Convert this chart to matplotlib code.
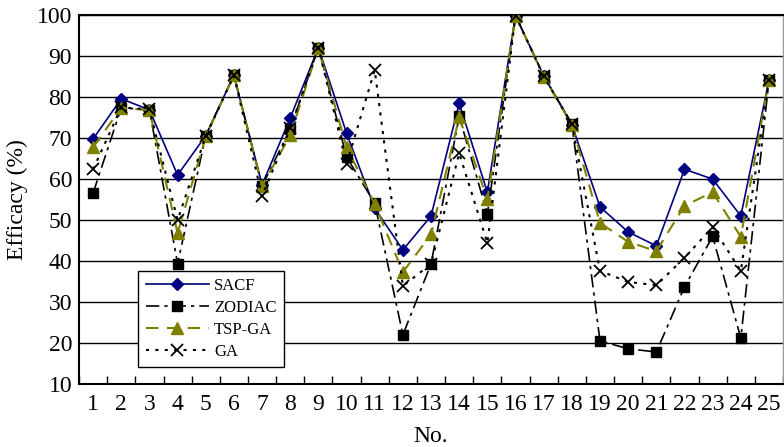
import matplotlib
matplotlib.use("Agg")
import matplotlib.pyplot as plt
from matplotlib.ticker import FixedLocator

categories = list(range(1, 26))
sacf = [69.8, 79.6, 76.9, 61.0, 70.6, 85.4, 58.6, 74.9, 92.1, 71.2, 52.9, 42.7, 51.0,
        78.5, 56.8, 99.9, 85.2, 73.3, 53.2, 47.1, 43.7, 62.4, 60.0, 51.0, 84.1]
zodiac = [56.6, 77.4, 76.9, 39.4, 70.6, 85.4, 58.3, 72.2, 92.1, 65.4, 54.1, 22.0, 39.3,
          75.3, 51.5, 99.9, 85.2, 73.5, 20.5, 18.6, 17.8, 33.7, 46.0, 21.2, 84.1]
tspga = [67.8, 77.4, 76.8, 46.8, 70.4, 85.3, 58.3, 70.7, 92.0, 67.8, 53.9, 37.3, 46.5,
         75.1, 55.1, 99.9, 85.0, 73.2, 49.3, 44.7, 42.4, 53.5, 56.8, 45.9, 84.1]
ga = [62.4, 77.5, 77.0, 50.0, 70.5, 85.3, 55.8, 72.4, 92.1, 63.7, 86.6, 33.9, 39.3,
      66.3, 44.4, 99.9, 85.1, 73.5, 37.6, 34.9, 34.1, 40.8, 48.3, 37.6, 84.1]
series_names = ["SACF", "ZODIAC", "TSP-GA", "GA"]
yticks = list(range(10, 101, 10))

plt.rcParams['font.family'] = ['Liberation Serif', 'DejaVu Serif']

fig = plt.figure(figsize=(7.84, 4.47), dpi=100)
ax = fig.add_axes([0.1008, 0.141, 0.898, 0.825])

ax.plot(categories, sacf, color='#000080', lw=1.2, marker='D', ms=6.5,
        label=series_names[0], zorder=3)
ax.plot(categories, zodiac, color='black', lw=1.2, ls=(0, (8, 3, 2, 3)), marker='s', ms=6.5,
        label=series_names[1], zorder=3)
ax.plot(categories, tspga, color='#808000', lw=1.5, ls=(0, (6, 4)), marker='^', ms=8,
        label=series_names[2], zorder=3)
ax.plot(categories, ga, color='black', lw=1.5, ls=(0, (1.5, 3)), marker='x', ms=8, mew=1.3,
        label=series_names[3], zorder=3)

ax.set_xlim(0.5, 25.5)
ax.set_ylim(10, 100)
ax.set_yticks(yticks)
ax.set_xticks(categories)
ax.xaxis.set_minor_locator(FixedLocator([i + 0.5 for i in range(0, 26)]))
ax.tick_params(axis='x', which='major', length=0, labelsize=17, pad=7)
ax.tick_params(axis='x', which='minor', length=6, direction='in', width=1)
ax.tick_params(axis='y', which='major', length=0, labelsize=17, pad=5)
ax.grid(axis='y', color='black', lw=1)
ax.set_axisbelow(True)

for s in ['left', 'bottom', 'top']:
    ax.spines[s].set_color('black')
    ax.spines[s].set_linewidth(1.5)
ax.spines['right'].set_color('#999999')
ax.spines['right'].set_linewidth(1)

ax.set_xlabel('No.', fontsize=17, labelpad=8)
ax.set_ylabel('Efficacy (%)', fontsize=17, labelpad=6)

leg = ax.legend(loc='lower left', bbox_to_anchor=(0.084, 0.046), fontsize=12,
                fancybox=False, edgecolor='black', framealpha=1, handlelength=3.8,
                handletextpad=0.3, borderaxespad=0, labelspacing=0.35, borderpad=0.45)
leg.get_frame().set_linewidth(1)

fig.savefig('out.png', dpi=100)
